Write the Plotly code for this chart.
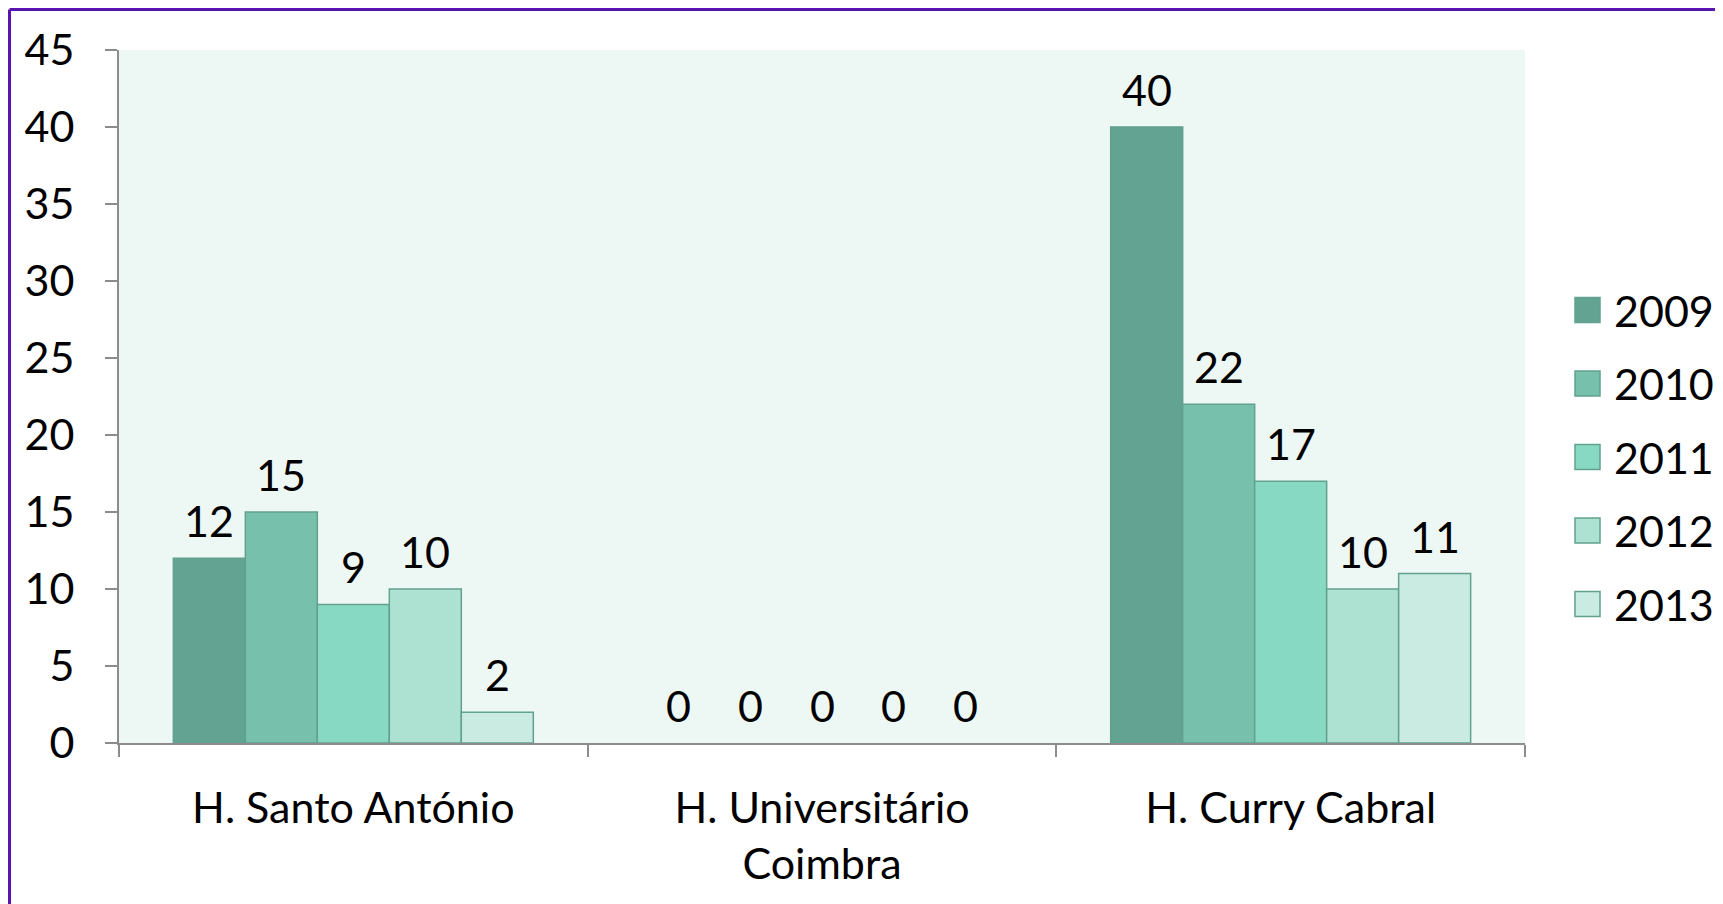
import plotly.graph_objects as go

categories = ["H. Santo António", "H. Universitário<br>Coimbra", "H. Curry Cabral"]
years = ["2009", "2010", "2011", "2012", "2013"]
values = {
    "2009": [12, 0, 40],
    "2010": [15, 0, 22],
    "2011": [9, 0, 17],
    "2012": [10, 0, 10],
    "2013": [2, 0, 11],
}
colors = ["#62A391", "#77C0AC", "#88D9C3", "#ADE2D3", "#C9EBE1"]
outline = "#62A18E"

W, H = 1715, 896
L, R, T, B = 111, 198, 42, 161
pw, ph = W - L - R, H - T - B

FONT = "Lato, Carlito, Calibri, sans-serif"
FS = 43
BARGAP = 0.232
n = len(years)
bw = (1 - BARGAP) / n

fig = go.Figure()
for i, y in enumerate(years):
    fig.add_trace(go.Bar(
        x=categories, y=values[y], name=y,
        marker=dict(color=colors[i],
                    line=dict(color=outline, width=[1.5 if v > 0 else 0 for v in values[y]])),
        showlegend=False,
    ))
    for ci, v in enumerate(values[y]):
        fig.add_annotation(
            x=ci + (i - (n - 1) / 2) * bw, y=v, xref="x", yref="y",
            text=str(v), showarrow=False, yanchor="bottom", yshift=10,
            font=dict(size=FS, color="black", family=FONT),
        )

# manual legend (squares + labels)
def px(fx):
    return (fx - L) / pw

def py(fy):
    return 1 - (fy - T) / ph

leg_x0, sq = 1567, 25
leg_y0, step = 302, 73.5
for i, y in enumerate(years):
    cy = leg_y0 + i * step
    fig.add_shape(type="rect", xref="paper", yref="paper",
                  x0=px(leg_x0), x1=px(leg_x0 + sq), y0=py(cy - sq / 2), y1=py(cy + sq / 2),
                  fillcolor=colors[i], line=dict(color=outline, width=1.5))
    fig.add_annotation(x=px(leg_x0 + sq + 12), y=py(cy), xref="paper", yref="paper",
                       text=y, showarrow=False, xanchor="left", yanchor="middle",
                       font=dict(size=FS, color="black", family=FONT))

# purple frame
bx = px(1.5)
by = py(1.5)
fig.add_shape(type="line", xref="paper", yref="paper", x0=bx, x1=bx, y0=by, y1=-0.5,
              line=dict(color="#5A14B0", width=3))
fig.add_shape(type="line", xref="paper", yref="paper", x0=bx, x1=1.3, y0=by, y1=by,
              line=dict(color="#5A14B0", width=3))

fig.update_layout(
    width=W, height=H,
    margin=dict(l=L, r=R, t=T, b=B, autoexpand=False),
    paper_bgcolor="white", plot_bgcolor="#EDF7F3",
    barmode="group", bargap=BARGAP, bargroupgap=0,
    font=dict(family=FONT, size=FS, color="black"),
    showlegend=False,
)
fig.update_xaxes(
    type="category", showline=True, linecolor="#8C8C8C", linewidth=2,
    ticks="outside", tickson="boundaries", ticklen=12, tickcolor="#8C8C8C", tickwidth=2,
    tickfont=dict(size=FS, family=FONT), showgrid=False, range=[-0.5, 2.5],
    ticklabelstandoff=26,
)
fig.update_yaxes(
    range=[0, 45], dtick=5, showline=True, linecolor="#8C8C8C", linewidth=2,
    ticks="outside", ticklen=12, tickcolor="#8C8C8C", tickwidth=2,
    tickfont=dict(size=FS, family=FONT), showgrid=False, zeroline=False,
    ticklabelstandoff=22,
)

fig.write_html("out.html")
